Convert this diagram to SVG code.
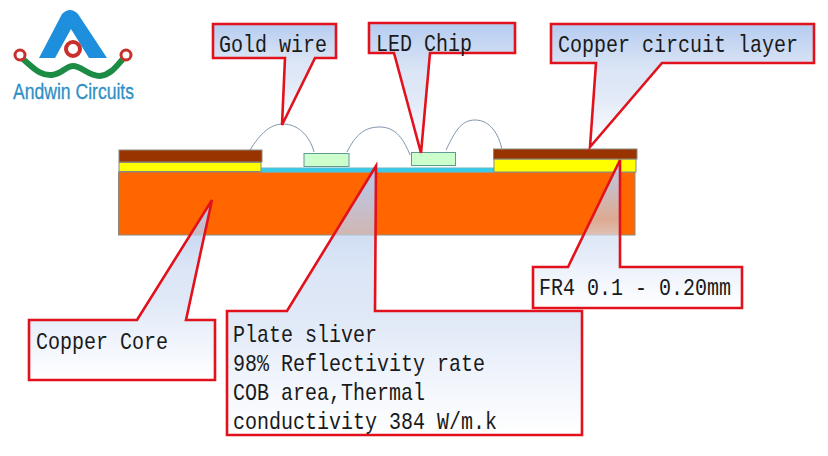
<svg xmlns="http://www.w3.org/2000/svg" width="828" height="456" viewBox="0 0 828 456">
<style>
.call{stroke:#e2121c;stroke-width:2.6;stroke-linejoin:miter;fill:url(#fade)}
.lbl{font-family:"Liberation Mono",monospace;font-size:20px;fill:#1a1a1a}
.layer{stroke:#8a8a80;stroke-width:1}
.wire{fill:none;stroke:#7f95ad;stroke-width:1}
.chip{fill:#ccffcc;stroke:#5f9a96;stroke-width:1}
</style>
<defs>
<linearGradient id="fade" x1="0" y1="0" x2="0" y2="1">
<stop offset="0" stop-color="#b4cbf0" stop-opacity="1"/>
<stop offset=".4" stop-color="#c6d6f0" stop-opacity=".6"/>
<stop offset=".7" stop-color="#eaf0fa" stop-opacity="1"/>
<stop offset="1" stop-color="#ffffff" stop-opacity="1"/>
</linearGradient>
</defs>
<rect width="828" height="456" fill="#ffffff"/>
<g id="logo">
<path d="M39,58 L62,14 Q70,6 78,14 L107,58 L89,58 L71,29 L55,58 Z" fill="#1d8fdc"/>
<circle cx="73" cy="49" r="7" fill="none" stroke="#c9302c" stroke-width="4"/>
<path d="M24,60 C34,68 40,76 52,75 C62,74 66,66 73,66 C82,66 88,76 100,76 C110,75 116,67 122,60" fill="none" stroke="#1c8c44" stroke-width="6" stroke-linecap="round"/>
<circle cx="20" cy="55" r="5" fill="#ffffff" stroke="#c9302c" stroke-width="3"/>
<circle cx="126" cy="55" r="5" fill="#ffffff" stroke="#c9302c" stroke-width="3"/>
<text x="13" y="99" font-family="'Liberation Sans',sans-serif" font-size="22" fill="#2e8fc4" stroke="#2e8fc4" stroke-width=".3" textLength="121" lengthAdjust="spacingAndGlyphs">Andwin Circuits</text>
</g>
<g id="board">
<rect class="layer" x="118.500" y="172" width="516.500" height="63" fill="#ff6600"/>
<rect x="260" y="168" width="235" height="4" fill="#33ccee" stroke="#6fb8c0" stroke-width="1"/>
<rect class="layer" x="119" y="150" width="143" height="12" fill="#993300"/>
<rect class="layer" x="119" y="162.500" width="142" height="9" fill="#ffff00"/>
<rect class="layer" x="494" y="159" width="142" height="13" fill="#ffff00"/>
<rect class="layer" x="493.500" y="149" width="143.500" height="10" fill="#993300"/>
</g>
<g id="chip-1"><rect class="chip" x="304" y="153.500" width="45" height="13"/></g>
<g id="chip-2"><rect class="chip" x="411.500" y="152.500" width="44" height="13"/></g>
<g id="wires">
<path class="wire" d="M250,150 C260,134 270,124 283,124 C298,124 310,136 314,152"/>
<path class="wire" d="M347,152 C356,134 365,127 380,127 C396,127 404,140 410,155"/>
<path class="wire" d="M446,150 C454,134 460,120 475,120 C490,120 499,134 502,150"/>
</g>
<g id="callout-gold-wire">
<path class="call" d="M213,24 H336 V58 H315 L282,125 L285,58 H213 Z"/>
<text class="lbl" transform="translate(219,52) scale(1,1.2)">Gold wire</text>
</g>
<g id="callout-led-chip">
<path class="call" d="M369,23 H515 V53 H430 L421,153 L394,53 H369 Z"/>
<text class="lbl" transform="translate(376,51) scale(1,1.2)">LED Chip</text>
</g>
<g id="callout-copper-circuit">
<path class="call" d="M551,24 H814 V63 H662 L590,147 L596,63 H551 Z"/>
<text class="lbl" transform="translate(558,52) scale(1,1.2)">Copper circuit layer</text>
</g>
<g id="callout-fr4">
<path class="call" d="M533,267 H568 L620,160 V267 H742 V308 H533 Z"/>
<text class="lbl" transform="translate(539,295) scale(1,1.2)">FR4 0.1 - 0.20mm</text>
</g>
<g id="callout-copper-core">
<path class="call" d="M29,320 H137 L212,200 L186,320 H215 V380 H29 Z"/>
<text class="lbl" transform="translate(36,349) scale(1,1.2)">Copper Core</text>
</g>
<g id="callout-plate-sliver">
<path class="call" d="M227,311 H287 L376,166 L375,311 H582 V435 H227 Z"/>
<text class="lbl" transform="translate(233,342) scale(1,1.2)">Plate sliver</text>
<text class="lbl" transform="translate(233,371) scale(1,1.2)">98% Reflectivity rate</text>
<text class="lbl" transform="translate(233,400) scale(1,1.2)">COB area,Thermal</text>
<text class="lbl" transform="translate(233,429) scale(1,1.2)">conductivity 384 W/m.k</text>
</g>
</svg>
